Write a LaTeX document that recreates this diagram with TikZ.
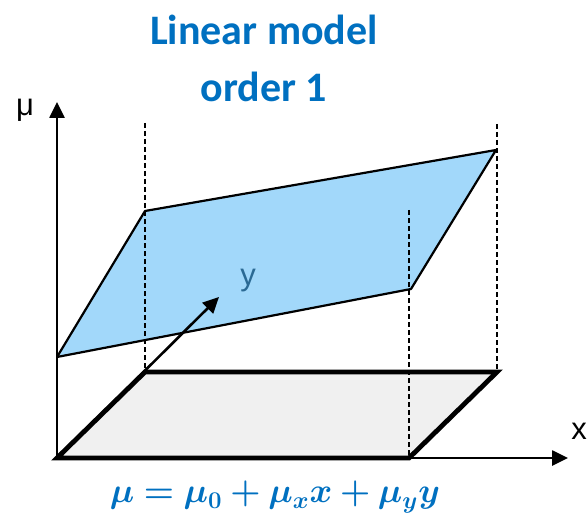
\documentclass[tikz,border=0pt]{standalone}
\usepackage[no-math]{fontspec}
\usepackage{bm}
\setmainfont{Carlito}
\newfontfamily\axisfont{Liberation Sans}
\usetikzlibrary{arrows.meta}
\definecolor{modelblue}{HTML}{0070C0}
\definecolor{planeblue}{HTML}{A2D8FA}
\definecolor{floorgray}{HTML}{F0F0F0}
\definecolor{ylabel}{HTML}{2B6A94}

\begin{document}
\begin{tikzpicture}[
  x=0.5pt, y=-0.5pt,
  axis/.style={-{Triangle[length=8pt,width=7.5pt]}, line width=1.3pt},
  edge/.style={line width=2.4pt, line cap=round},
  guide/.style={dash pattern=on 2.5pt off 1.5pt, line width=1.1pt},
  heading/.style={anchor=base, text=modelblue, font=\fontsize{21}{25}\selectfont\bfseries},
  axislabel/.style={font=\axisfont\fontsize{15.5}{18}\selectfont}
]
\useasboundingbox (0,0) rectangle (588,518);

% corners of the floor (x-y domain)
\coordinate (o) at (57,458);
\coordinate (fx) at (409,458);
\coordinate (fxy) at (497,372);
\coordinate (fy) at (145,372);
% corners of the plane
\coordinate (p0) at (57,357);
\coordinate (px) at (411,289);
\coordinate (pxy) at (496,150);
\coordinate (py) at (145,211);
% axis ends
\coordinate (mutop) at (57,102);
\coordinate (xend) at (568,458);
\coordinate (yend) at (219,297);
% tops of the guides
\coordinate (gy) at (145,123);
\coordinate (gxy) at (497,124);
\coordinate (gx) at (409,210);

% floor
\fill[floorgray] (o) -- (fx) -- (fxy) -- (fy) -- cycle;
\draw[axis] (o) -- (mutop);
\draw[axis] (o) -- (xend);
\draw[edge] (o) -- (fx) -- (fxy) -- (fy) -- cycle;

% plane
\draw[fill=planeblue, line width=1.1pt, line join=round] (p0) -- (px) -- (pxy) -- (py) -- cycle;
\draw[axis] (o) -- (yend);

% dashed guides
\draw[guide] (gy) -- (fy);
\draw[guide] (gxy) -- (fxy);
\draw[guide] (gx) -- (fx);

% labels
\node[heading] (title1) at (264,45) {Linear model};
\node[heading] (title2) at (264,102) {order 1};
\node[axislabel] (mu) at (25,110) {μ};
\node[axislabel, inner sep=0pt] (xlab) at (579,431) {x};
\node[axislabel, text=ylabel] (ylab) at (248,281) {y};
\node[text=modelblue, font=\fontsize{16.5}{20}\selectfont] (eq) at (275,497) {$\bm{\mu = \mu_0 + \mu_x x + \mu_y y}$};
\end{tikzpicture}
\end{document}
